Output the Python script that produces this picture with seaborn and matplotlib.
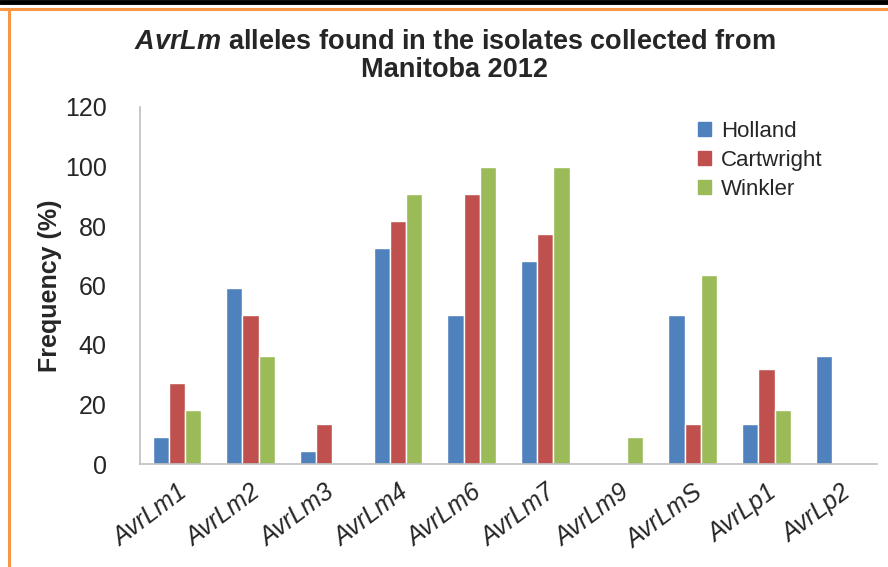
import pandas as pd
import matplotlib.pyplot as plt
import seaborn as sns
from matplotlib.lines import Line2D

# Datos
alelos = ['AvrLm1', 'AvrLm2', 'AvrLm3', 'AvrLm4', 'AvrLm6',
          'AvrLm7', 'AvrLm9', 'AvrLmS', 'AvrLp1', 'AvrLp2']
holland = [9.1, 59.1, 4.5, 72.7, 50.0, 68.2, 0, 50.0, 13.6, 36.4]
cartwright = [27.3, 50.0, 13.6, 81.8, 90.9, 77.3, 0, 13.6, 31.8, 0]
winkler = [18.2, 36.4, 0, 90.9, 100.0, 100.0, 9.1, 63.6, 18.2, 0]
sitios = ['Holland', 'Cartwright', 'Winkler']
colores = ['#4F81BD', '#C0504D', '#9BBB59']

df = pd.DataFrame({'Holland': holland, 'Cartwright': cartwright,
                   'Winkler': winkler}, index=alelos)
df = df.reset_index().melt(id_vars='index', var_name='sitio', value_name='freq')
df = df.rename(columns={'index': 'alelo'})

sns.set_style('white')
plt.rcParams['font.family'] = ['Liberation Sans', 'DejaVu Sans']
plt.rcParams['mathtext.fontset'] = 'custom'
plt.rcParams['mathtext.it'] = 'Liberation Sans:italic:bold'

fig = plt.figure(figsize=(8.88, 5.67), dpi=100)
ax = fig.add_axes([140 / 888, 1 - 464 / 567, (877 - 140) / 888, (464 - 107) / 567])

sns.barplot(data=df, x='alelo', y='freq', hue='sitio', hue_order=sitios,
            palette=colores, width=0.66, saturation=1, ax=ax, legend=False)

ax.set_ylim(0, 120)
ax.set_yticks(range(0, 121, 20))
ax.set_xlim(-0.5, len(alelos) - 0.5)
ax.set_xlabel('')
ax.set_ylabel('Frequency (%)', fontsize=18, fontweight='bold', labelpad=2)
ax.tick_params(axis='y', labelsize=18, length=0, pad=24)
ax.tick_params(axis='x', labelsize=18, length=0, pad=12)
for lbl in ax.get_xticklabels():
    lbl.set_rotation(37)
    lbl.set_ha('right')
    lbl.set_rotation_mode('anchor')
    lbl.set_style('italic')

for s in ['top', 'right']:
    ax.spines[s].set_visible(False)
for s in ['left', 'bottom']:
    ax.spines[s].set_color('#BFBFBF')
    ax.spines[s].set_linewidth(1.2)

fig.text(0.512, 1 - 42 / 567, r'$AvrLm$' + ' alleles found in the isolates collected from',
         ha='center', va='center', fontsize=19.5, fontweight='bold')
fig.text(0.512, 1 - 70 / 567, 'Manitoba 2012', ha='center', va='center',
         fontsize=19.5, fontweight='bold')

handles = [plt.Rectangle((0, 0), 1, 1, color=c) for c in colores]
fig.legend(handles, sitios, loc='upper left', frameon=False, fontsize=16,
           bbox_to_anchor=(678 / 888, 1 - 101 / 567), handlelength=0.6,
           handleheight=0.6, handletextpad=0.45, labelspacing=0.35)

# marco naranja y linea negra superior
fig.add_artist(Line2D([0, 1], [1 - 2 / 567, 1 - 2 / 567], color='black', lw=3.5))
fig.add_artist(Line2D([0, 1], [1 - 8.5 / 567, 1 - 8.5 / 567], color='#F79646', lw=2.2))
fig.add_artist(Line2D([9 / 888, 9 / 888], [0, 1 - 8.5 / 567], color='#F79646', lw=2.2))

fig.savefig('out.png', dpi=100)
